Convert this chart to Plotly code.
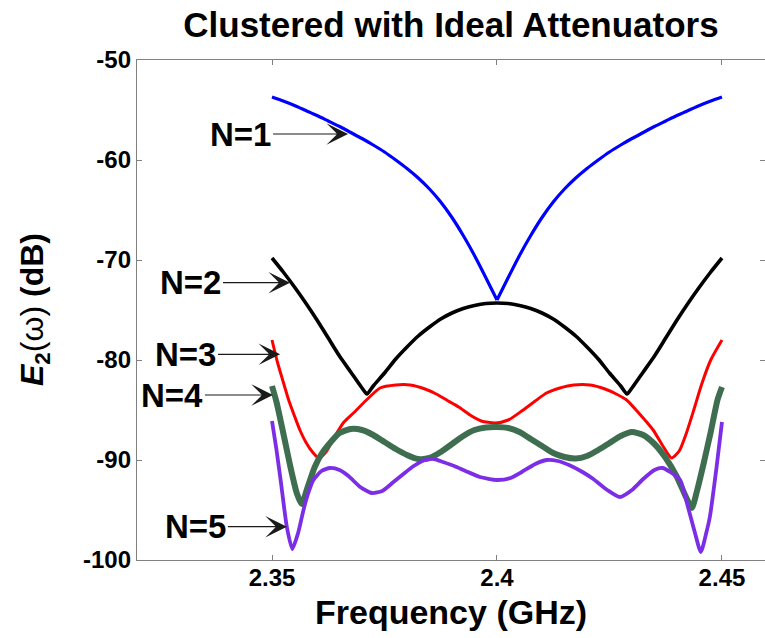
import plotly.graph_objects as go

# Frequency axis (GHz) and E2 response (dB) for each cluster size N
f_n1 = [2.3500, 2.3525, 2.3550, 2.3575, 2.3600, 2.3625, 2.3650, 2.3675, 2.3700, 2.3725,
        2.3750, 2.3775, 2.3800, 2.3825, 2.3850, 2.3875, 2.3900, 2.3925, 2.3950, 2.3975,
        2.4000,
        2.4025, 2.4050, 2.4075, 2.4100, 2.4125, 2.4150, 2.4175, 2.4200, 2.4225, 2.4250,
        2.4275, 2.4300, 2.4325, 2.4350, 2.4375, 2.4400, 2.4425, 2.4450, 2.4475, 2.4500]
e_n1 = [-53.7, -54.1, -54.55, -55.05, -55.55, -56.1, -56.65, -57.25, -57.85, -58.5,
        -59.2, -60.0, -60.85, -61.8, -62.9, -64.2, -65.75, -67.55, -69.55, -71.75,
        -74.0,
        -71.75, -69.55, -67.55, -65.75, -64.2, -62.9, -61.8, -60.85, -60.0, -59.2,
        -58.5, -57.85, -57.25, -56.65, -56.1, -55.55, -55.05, -54.55, -54.1, -53.7]

f_n2 = [2.3500, 2.3525, 2.3550, 2.3575, 2.3600, 2.3625, 2.3650, 2.3675, 2.3700, 2.3711,
        2.3725, 2.3750, 2.3775, 2.3800, 2.3825, 2.3850, 2.3875, 2.3900, 2.3925, 2.3950,
        2.3975, 2.4000, 2.4025, 2.4050, 2.4075, 2.4100, 2.4125, 2.4150, 2.4175, 2.4200,
        2.4225, 2.4250, 2.4275, 2.4289, 2.4300, 2.4325, 2.4350, 2.4375, 2.4400, 2.4425,
        2.4450, 2.4475, 2.4500]
e_n2 = [-69.8, -71.2, -72.7, -74.3, -76.0, -77.8, -79.6, -81.2, -82.8, -83.4,
        -82.6, -81.3, -79.9, -78.7, -77.6, -76.7, -75.9, -75.3, -74.85, -74.55,
        -74.35, -74.3, -74.35, -74.55, -74.85, -75.3, -75.9, -76.7, -77.6, -78.7,
        -79.9, -81.3, -82.6, -83.4, -82.8, -81.2, -79.6, -77.8, -76.0, -74.3,
        -72.7, -71.2, -69.8]

f_n3 = [2.3500, 2.3512, 2.3525, 2.3537, 2.3550, 2.3562, 2.3575, 2.3590, 2.3604, 2.3620,
        2.3644, 2.3660, 2.3681, 2.3710, 2.3740, 2.3775, 2.3807, 2.3840, 2.3865, 2.3888,
        2.3915, 2.3940, 2.3965, 2.3996, 2.4025, 2.4055, 2.4085, 2.4110, 2.4140, 2.4170,
        2.4207, 2.4240, 2.4265, 2.4288, 2.4315, 2.4347, 2.4370, 2.4388, 2.4405, 2.4421,
        2.4438, 2.4455, 2.4475, 2.4500]
e_n3 = [-78.0, -80.2, -82.2, -84.0, -85.6, -87.0, -88.2, -89.2, -89.8, -89.2,
        -87.3, -86.2, -85.3, -84.0, -82.8, -82.5, -82.5, -82.9, -83.4, -84.0,
        -84.7, -85.5, -86.1, -86.3, -86.0, -85.1, -84.1, -83.3, -82.8, -82.5,
        -82.5, -82.9, -83.4, -84.0, -85.3, -87.0, -88.7, -89.8, -89.1, -87.3,
        -84.9, -82.4, -80.0, -78.0]

f_n4 = [2.3500, 2.3510, 2.3525, 2.3540, 2.3555, 2.3566, 2.3580, 2.3595, 2.3610, 2.3625,
        2.3650, 2.3675, 2.3700, 2.3725, 2.3750, 2.3775, 2.3800, 2.3825, 2.3850, 2.3875,
        2.3900, 2.3925, 2.3950, 2.3975, 2.4000, 2.4025, 2.4050, 2.4075, 2.4100, 2.4125,
        2.4150, 2.4175, 2.4200, 2.4225, 2.4250, 2.4275, 2.4300, 2.4325, 2.4350, 2.4375,
        2.4400, 2.4420, 2.4433, 2.4445, 2.4460, 2.4475, 2.4490, 2.4500]
e_n4 = [-82.6, -84.2, -87.3, -90.5, -93.3, -94.4, -92.6, -90.7, -89.4, -88.5,
        -87.3, -86.9, -87.0, -87.5, -88.2, -88.9, -89.5, -89.9, -89.8, -89.2,
        -88.4, -87.6, -87.0, -86.75, -86.7, -86.8, -87.2, -87.9, -88.6, -89.3,
        -89.7, -89.85, -89.6, -89.0, -88.3, -87.6, -87.2, -87.5, -88.4, -89.8,
        -91.7, -93.7, -94.8, -93.0, -90.2, -87.2, -84.0, -82.7]

f_n5 = [2.3500, 2.3510, 2.3520, 2.3533, 2.3545, 2.3558, 2.3570, 2.3580, 2.3592, 2.3610,
        2.3629, 2.3650, 2.3670, 2.3696, 2.3722, 2.3745, 2.3770, 2.3792, 2.3815, 2.3840,
        2.3860, 2.3880, 2.3905, 2.3930, 2.3962, 2.4000, 2.4030, 2.4055, 2.4085, 2.4110,
        2.4135, 2.4160, 2.4190, 2.4214, 2.4245, 2.4273, 2.4300, 2.4325, 2.4350, 2.4368,
        2.4385, 2.4407, 2.4425, 2.4440, 2.4453, 2.4465, 2.4473, 2.4488, 2.4500]
e_n5 = [-86.1, -89.0, -92.3, -96.7, -98.9, -97.3, -95.0, -93.4, -92.0, -91.1,
        -90.8, -91.0, -91.6, -92.7, -93.3, -93.1, -92.2, -91.4, -90.6, -90.0,
        -89.9, -90.2, -90.6, -91.1, -91.7, -92.0, -91.8, -91.2, -90.4, -90.0,
        -90.1, -90.5, -91.2, -91.9, -93.0, -93.7, -93.0, -91.9, -91.0, -90.8,
        -91.2, -92.0, -94.8, -97.3, -99.2, -97.3, -95.7, -90.7, -86.2]

x_ticks = [2.35, 2.40, 2.45]
x_tick_text = ["2.35", "2.4", "2.45"]
y_ticks = [-100, -90, -80, -70, -60, -50]
y_tick_text = ["-100", "-90", "-80", "-70", "-60", "-50"]

# curve labels: arrow tip on the curve (f, dB) and arrow length back to the text (px)
labels = ["N=1", "N=2", "N=3", "N=4", "N=5"]
tip_f = [2.3669, 2.3540, 2.3518, 2.3502, 2.3533]
tip_db = [-57.4, -72.27, -79.43, -83.5, -96.67]
arrow_len = [75, 67, 62, 68, 59]

FONT = "Liberation Sans, Arial, Helvetica, sans-serif"

fig = go.Figure()

# N=1 has a sharp notch at the centre: draw each branch as its own smooth piece
mid = f_n1.index(2.4000)
for seg in (slice(0, mid + 1), slice(mid, len(f_n1))):
    fig.add_trace(go.Scatter(
        x=f_n1[seg], y=e_n1[seg], mode="lines", name="N=1",
        line=dict(color="#0000ff", width=3.2, shape="spline", smoothing=0.6),
        showlegend=False, hoverinfo="skip",
    ))

series = [
    (f_n2, e_n2, "#000000", 3.6, "N=2"),
    (f_n3, e_n3, "#ff0000", 3.0, "N=3"),
    (f_n4, e_n4, "#3e6e4f", 6.0, "N=4"),
    (f_n5, e_n5, "#7b2ee6", 3.8, "N=5"),
]
for fx, ey, col, w, name in series:
    fig.add_trace(go.Scatter(
        x=fx, y=ey, mode="lines", name=name,
        line=dict(color=col, width=w, shape="spline", smoothing=0.6),
        showlegend=False, hoverinfo="skip",
    ))

annotations = []
for txt, tf, td, al in zip(labels, tip_f, tip_db, arrow_len):
    # text sits at the arrow tail, to its left
    annotations.append(dict(
        x=tf, y=td, xref="x", yref="y", text="<b>" + txt + "</b>",
        showarrow=True, ax=-al, ay=0, axref="pixel", ayref="pixel",
        xanchor="right", yanchor="middle", borderpad=1,
        arrowhead=3, arrowsize=3.0, arrowwidth=1.2, arrowcolor="#1a1a1a",
        standoff=0, startstandoff=0,
        font=dict(family=FONT, size=33, color="black"),
    ))

# axis titles
annotations.append(dict(
    x=0.5, y=-0.104, xref="paper", yref="paper",
    text="<b>Frequency (GHz)</b>", showarrow=False,
    xanchor="center", yanchor="middle",
    font=dict(family=FONT, size=34, color="black"),
))
annotations.append(dict(
    x=-0.164, y=0.5, xref="paper", yref="paper", textangle=-90,
    text="<b><i>E</i><sub>2</sub></b>(ω)<b> (dB)</b>", showarrow=False,
    xanchor="center", yanchor="middle",
    font=dict(family=FONT, size=32, color="black"),
))

axis_common = dict(
    showgrid=False, zeroline=False, showline=True, linecolor="#808080",
    linewidth=1.3, ticks="inside", ticklen=5, tickwidth=1, tickcolor="#808080",
    mirror="ticks",
    tickfont=dict(family=FONT, size=24, color="black", weight="bold"),
)

fig.update_layout(
    width=765, height=638,
    margin=dict(l=137, r=0, t=60, b=78),
    paper_bgcolor="white", plot_bgcolor="white",
    title=dict(
        text="<b>Clustered with Ideal Attenuators</b>",
        x=(137 + 765) / 2 / 765, xanchor="center",
        y=1 - 24.5 / 638, yanchor="middle", yref="container",
        font=dict(family=FONT, size=35, color="black"),
    ),
    xaxis=dict(range=[2.32, 2.45956], tickvals=x_ticks, ticktext=x_tick_text,
               ticklabelstandoff=-4, **axis_common),
    yaxis=dict(range=[-100, -50], tickvals=y_ticks, ticktext=y_tick_text,
               **axis_common),
    annotations=annotations,
)

fig.write_html("out.html")
